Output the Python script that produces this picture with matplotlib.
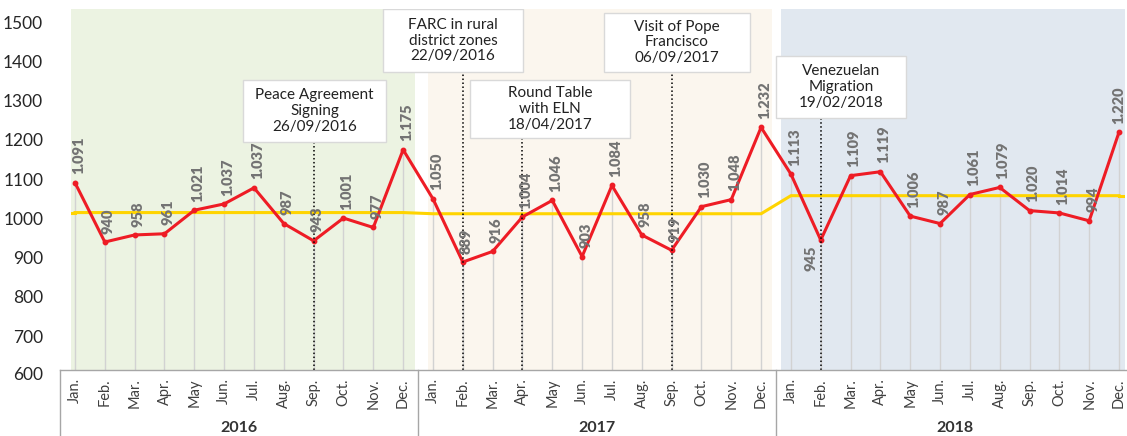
import matplotlib
matplotlib.use("Agg")
import matplotlib.pyplot as plt
from matplotlib.patches import Rectangle

plt.rcParams['font.family'] = ['Lato', 'DejaVu Sans']

# ---------------- data ----------------
years = ['2016', '2017', '2018']
months = ['Jan.', 'Feb.', 'Mar.', 'Apr.', 'May', 'Jun.', 'Jul.', 'Aug.', 'Sep.', 'Oct.', 'Nov.', 'Dec.']

values_2016 = [1091, 940, 958, 961, 1021, 1037, 1078, 987, 943, 1001, 977, 1175]
values_2017 = [1050, 889, 916, 1004, 1046, 903, 1084, 958, 919, 1030, 1048, 1232]
values_2018 = [1113, 945, 1109, 1119, 1006, 987, 1061, 1079, 1020, 1014, 994, 1220]

labels_2016 = ['1.091', '940', '958', '961', '1.021', '1.037', '1.037', '987', '943', '1.001', '977', '1.175']
labels_2017 = ['1.050', '889', '916', '1.004', '1.046', '903', '1.084', '958', '919', '1.030', '1.048', '1.232']
labels_2018 = ['1.113', '945', '1.109', '1.119', '1.006', '987', '1.061', '1.079', '1.020', '1.014', '994', '1.220']

year_average = [1015, 1012, 1058]

event_texts = ['Peace Agreement\nSigning\n26/09/2016',
               'FARC in rural\ndistrict zones\n22/09/2016',
               'Round Table\nwith ELN\n18/04/2017',
               'Visit of Pope\nFrancisco\n06/09/2017',
               'Venezuelan\nMigration\n19/02/2018']
event_month = [8, 13, 15, 20, 25]   # index of the month where the dotted marker line sits

y_ticks = [600, 700, 800, 900, 1000, 1100, 1200, 1300, 1400, 1500]

# ---------------- derived ----------------
values = values_2016 + values_2017 + values_2018
point_labels = labels_2016 + labels_2017 + labels_2018
n = len(values)
x = list(range(n))
avg_line = [year_average[i // 12] for i in range(n)]

# ---------------- figure ----------------
W, H = 1127, 436
fig = plt.figure(figsize=(W / 100, H / 100), dpi=100)
ax = fig.add_axes([71 / W, 66 / H, (1125 - 71) / W, 361 / H])
ymin, ymax = 614, 1533.5
ax.set_xlim(-0.134, 35.2)
ax.set_ylim(ymin, ymax)
for s in ax.spines.values():
    s.set_visible(False)

# year background bands
band_colors = ['#ecf3e2', '#fbf6ee', '#e1e8f0']
band_spans = [(-0.134, 11.40), (11.83, 23.37), (23.67, 35.2)]
for (a, b), c in zip(band_spans, band_colors):
    ax.axvspan(a, b, color=c, zorder=0, lw=0)

# drop lines
ax.vlines(x, ymin, values, color='#d2d2d2', lw=1, zorder=1)

# yearly average line (extended to the plot edges)
ax.plot(x, avg_line, color='#ffd400', lw=2.2, zorder=3, solid_joinstyle='round')
ax.plot([-0.134, 0], [avg_line[0]] * 2, color='#ffd400', lw=2.2, zorder=3)
ax.plot([n - 1, 35.2], [avg_line[-1]] * 2, color='#ffd400', lw=2.2, zorder=3)

# main series
ax.plot(x, values, color='#ee1c25', lw=2.2, marker='o', markersize=3.2, zorder=4,
        solid_joinstyle='round')

# data labels
lab_style = dict(textcoords='offset points', rotation=90, fontsize=10.5,
                 fontweight='heavy', color='#737373', zorder=5)
for i, (v, t) in enumerate(zip(values, point_labels)):
    if i == 25:  # Feb 2018 label sits under its point
        ax.annotate(t, (i, v), xytext=(-7, -4), ha='center', va='top', **lab_style)
    else:
        dx = 0 if i == n - 1 else 2.5
        ax.annotate(t, (i, v), xytext=(dx, 6), ha='center', va='bottom', **lab_style)

# event boxes (x0, x1, y_bottom, y_top) in data units
event_boxes = [(5.63, 10.43, 1195, 1353),
               (10.33, 15.02, 1373, 1533),
               (13.24, 18.60, 1205, 1353),
               (17.73, 22.63, 1373, 1524),
               (23.50, 27.86, 1256, 1414)]
for txt, m, (x0, x1, y0, y1) in zip(event_texts, event_month, event_boxes):
    ax.vlines(m, ymin, y0, color='black', lw=1.1, linestyles=(0, (1, 1.6)), zorder=4.5)
    ax.add_patch(Rectangle((x0, y0), x1 - x0, y1 - y0, facecolor='white',
                           edgecolor='#d9d9d9', lw=1, zorder=6))
    ax.text((x0 + x1) / 2, (y0 + y1) / 2, txt, ha='center', va='center',
            fontsize=11, color='#222222', linespacing=1.15, zorder=7)

# y axis
ax.set_yticks(y_ticks[1:])
ax.set_yticklabels([str(t) for t in y_ticks[1:]], fontsize=12.5, color='#262626')
ax.tick_params(axis='y', length=0, pad=20)
ax.text(-0.0266, y_ticks[0], str(y_ticks[0]), transform=ax.get_yaxis_transform(),
        ha='right', va='center', fontsize=12.5, color='#262626', clip_on=False)

# x axis
ax.set_xticks(x)
ax.set_xticklabels(months * len(years), rotation=90, fontsize=10.5, color='#404040')
ax.tick_params(axis='x', length=0, pad=6)

# category table lines & year labels
xt = ax.get_xaxis_transform()
ax.plot([-0.5, 36], [0, 0], transform=xt, color='#a6a6a6', lw=1, clip_on=False, zorder=8)
for k in range(len(years)):
    ax.plot([k * 12 - 0.5, k * 12 - 0.5], [0, -0.19], transform=xt, color='#a6a6a6',
            lw=1, clip_on=False)
    ax.text(k * 12 + 5.5, -0.161, years[k], transform=xt, ha='center', va='center',
            fontsize=11.5, fontweight='bold', color='#333333')

fig.savefig('out.png', dpi=100)
